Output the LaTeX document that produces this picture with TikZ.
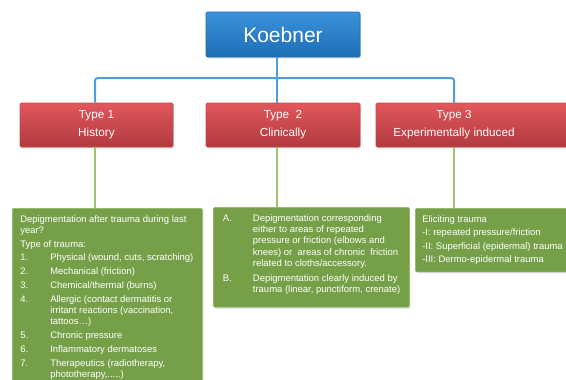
\documentclass[tikz,border=0pt]{standalone}
\usepackage{fontspec}
\setmainfont{Liberation Sans}
\usepackage{tikz}
\usetikzlibrary{shadows}
\definecolor{KoebnerTop}{HTML}{3B92D8}
\definecolor{KoebnerBot}{HTML}{1D6EB6}
\definecolor{TypeTop}{HTML}{E2575C}
\definecolor{TypeBot}{HTML}{B03A3F}
\definecolor{TypeEdge}{HTML}{C9474C}
\definecolor{ListFill}{HTML}{76A048}
\definecolor{ListEdge}{HTML}{8DB85E}
\definecolor{BusBlue}{HTML}{4A9EDD}
\definecolor{StemGreen}{HTML}{9DC56B}
\newcommand{\listfont}[1]{\fontsize{7.1}{8.5}\selectfont\setlength{\parskip}{1.8pt}%
  \raggedright\rightskip=-20pt plus 1fil\relax\leftskip=#1\relax
  \spaceskip=\fontdimen2\font\xspaceskip=\fontdimen2\font\ignorespaces}
\newcommand{\listitem}[2]{\hangindent=22.5pt\hangafter=1\noindent\makebox[22.5pt][l]{#1}#2\par}

\begin{document}
\begin{tikzpicture}[x=0.75pt, y=-0.75pt,
                    every node/.style={text=white, rounded corners=1pt},
                    topbox/.style={draw=KoebnerBot, top color=KoebnerTop, bottom color=KoebnerBot,
                                   minimum width=154*.75pt, minimum height=45*.75pt,
                                   font=\fontsize{15.75}{18}\selectfont,
                                   drop shadow={opacity=0.3, shadow xshift=0.8pt, shadow yshift=-1pt}},
                    typebox/.style={draw=TypeEdge, top color=TypeTop, bottom color=TypeBot,
                                    minimum height=44*.75pt, align=center,
                                    font=\fontsize{8.8}{13.5}\selectfont,
                                    drop shadow={opacity=0.3, shadow xshift=0.8pt, shadow yshift=-1pt}},
                    listbox/.style={draw=ListEdge, fill=ListFill, anchor=north west, align=left,
                                    inner xsep=5*.75pt, inner ysep=7*.75pt,
                                    drop shadow={opacity=0.3, shadow xshift=0.8pt, shadow yshift=-1pt}},
                    blueline/.style={draw=BusBlue, line width=1.5pt, rounded corners=2pt},
                    greenline/.style={draw=StemGreen, line width=1.5pt}]
\useasboundingbox (0,0) rectangle (566,379);
\clip (0,0) rectangle (566,379);
\node[topbox] (koebner) at (283,34.5) {Koebner};
\node[typebox, minimum width=153*.75pt] (history) at (96.5,125) {Type 1\\History};
\node[typebox, minimum width=154*.75pt] (clinic) at (283,125) {Type\ \ 2\\Clinically};
\node[typebox, minimum width=196*.75pt] (induced) at (474,125)
  {Type 3\hspace*{30pt}\\Experimentally induced\hspace*{30pt}};
\node[listbox, text width=180*.75pt] (historytxt) at (12,208) {\listfont{2.25pt}
  Depigmentation after trauma during last\newline year?\par
  Type of trauma:\par
  \listitem{1.}{Physical (wound, cuts, scratching)}
  \listitem{2.}{Mechanical (friction)}
  \listitem{3.}{Chemical/thermal (burns)}
  \listitem{4.}{Allergic (contact dermatitis or\newline irritant reactions (vaccination,\newline tattoos…)}
  \listitem{5.}{Chronic pressure}
  \listitem{6.}{Inflammatory dermatoses}
  \listitem{7.}{Therapeutics (radiotherapy,\newline phototherapy,.....)}};
\node[listbox, text width=186*.75pt] (clinictxt) at (213,207) {\listfont{3.5pt}
  \listitem{A.}{Depigmentation corresponding\newline either to areas of repeated\newline
    pressure or friction (elbows and\newline knees) or\ \ areas of chronic\ \ friction\newline
    related to cloths/accessory.}\vspace{1pt}
  \listitem{B.}{Depigmentation clearly induced by\newline trauma (linear, punctiform, crenate)}
  \vspace{4pt}};
\node[listbox, text width=170*.75pt, inner xsep=7*.75pt] (inducedtxt) at (415,208) {\listfont{0pt}
  \baselineskip=10.2pt
  Eliciting trauma\newline
  -I: repeated pressure/friction\newline
  -II: Superficial (epidermal) trauma\newline
  -III: Dermo-epidermal trauma\par};
% connectors
\coordinate (bus) at (277,78);
\coordinate (busl) at (95,78);
\coordinate (busr) at (454,78);
\draw[blueline] (koebner.south -| bus) -- (bus |- clinic.north);
\draw[blueline] (busl |- history.north) -- (busl) -- (busr) -- (busr |- induced.north);
\draw[greenline] (history.south -| busl) -- (busl |- historytxt.north);
\draw[greenline] (clinic.south -| bus) -- (bus |- clinictxt.north);
\draw[greenline] (induced.south -| busr) -- (busr |- inducedtxt.north);
\end{tikzpicture}
\end{document}
